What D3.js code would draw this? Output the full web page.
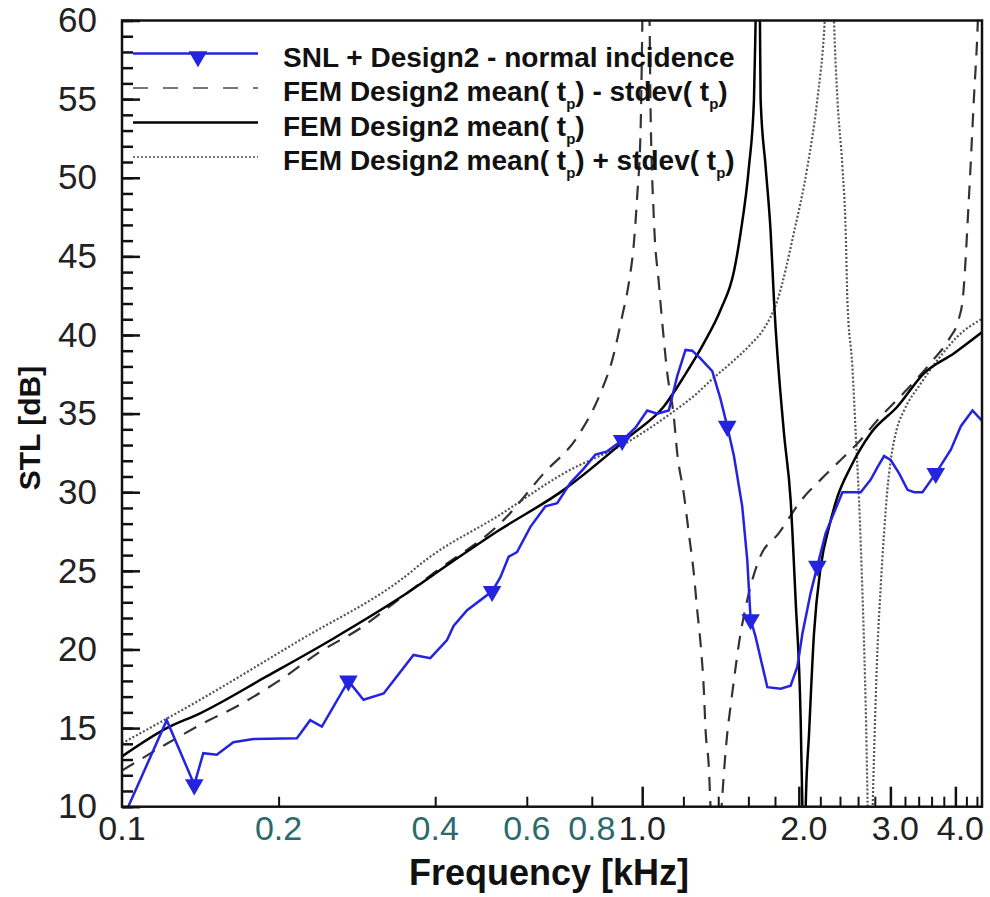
<!DOCTYPE html>
<html>
<head>
<meta charset="utf-8">
<script src="https://cdn.jsdelivr.net/npm/d3@7"></script>
<style>
  body { margin: 0; background: #fff; }
  svg { font-family: "Liberation Sans", Arial, sans-serif; }
</style>
</head>
<body>
<svg id="chart" width="990" height="897"></svg>
<script>
// SNL + Design2 - normal incidence (measured)
const snlFreq = [0.1028, 0.1219, 0.1377, 0.1433, 0.1521, 0.1637, 0.1789, 0.2169, 0.2300, 0.2422,
    0.2724, 0.2912, 0.3184, 0.3634, 0.3914, 0.4215, 0.4339, 0.4607, 0.5146, 0.5339,
    0.5538, 0.5746, 0.6097, 0.6515, 0.6864, 0.7278, 0.7720, 0.8130, 0.8565, 0.9152,
    0.9707, 1.0224, 1.0688, 1.125, 1.168, 1.2114, 1.248, 1.295, 1.3636, 1.415,
    1.457, 1.501, 1.557, 1.592, 1.616, 1.652, 1.740, 1.846, 1.929, 1.987,
    2.032, 2.108, 2.171, 2.253, 2.426, 2.631, 2.750, 2.834, 2.917, 3.004,
    3.118, 3.236, 3.333, 3.458, 3.667, 3.920, 4.098, 4.315, 4.511];
const snlStl = [10.0, 15.5, 11.4, 13.4, 13.3, 14.1, 14.3, 14.35, 15.5, 15.1,
    18.0, 16.8, 17.2, 19.65, 19.45, 20.6, 21.5, 22.5, 23.7, 24.6,
    25.9, 26.2, 27.8, 29.1, 29.3, 30.6, 31.5, 32.4, 32.6, 33.3,
    34.1, 35.2, 35.0, 35.2, 37.4, 39.05, 39.0, 38.5, 37.7, 35.9,
    34.2, 32.3, 29.1, 25.7, 21.9, 20.8, 17.6, 17.5, 17.7, 18.9,
    21.0, 23.6, 25.3, 27.4, 30.0, 30.0, 30.8, 31.6, 32.3, 32.05,
    31.2, 30.15, 30.0, 30.0, 31.2, 32.7, 34.2, 35.2, 34.5];
const snlMarkerFreq = [0.1377, 0.2724, 0.5146, 0.9152, 1.457, 1.616, 2.171, 3.667];

// FEM Design2 mean(tp) - stdev(tp)
const lowFreq = [0.1, 0.1219, 0.1413, 0.1687, 0.2014, 0.2404, 0.2871, 0.3426, 0.3972, 0.5497,
    0.6467, 0.7497, 0.8313, 0.8757, 0.9152, 0.9424, 0.9636, 0.978, 0.9925, 1.010,
    1.033, 1.037, 1.0527, 1.0764, 1.1005, 1.1171, 1.1503, 1.1676, 1.2023, 1.229,
    1.2566, 1.2756, 1.2946, 1.3138, 1.3236, 1.3431, 1.3532, 1.39, 1.4214, 1.4355,
    1.4575, 1.479, 1.501, 1.535, 1.592, 1.676, 1.831, 2.046, 2.204, 2.373,
    2.592, 2.874, 3.2, 3.6, 3.9, 4.05, 4.133, 4.245, 4.341, 4.418, 4.47];
const lowStl = [12.3, 14.0, 15.2, 16.5, 18.06, 19.86, 21.35, 23.26, 24.85, 28.45,
    31.2, 33.5, 36.3, 38.4, 41.2, 43.3, 45.8, 48.8, 52.8, 66,
    60, 55, 47.5, 43.3, 39.7, 37.6, 34.8, 32.5, 29.9, 27.4,
    24.85, 22.5, 20.4, 17.4, 14.9, 12.5, 10, 3, 10, 12.1,
    14.7, 16.4, 18.06, 20.4, 23.15, 25.7, 27.4, 29.7, 30.8, 31.85,
    33.1, 34.8, 36.4, 38.3, 39.8, 40.9, 42.3, 48.6, 55, 60, 66];

// FEM Design2 mean(tp)
const meanFreq = [0.1, 0.1219, 0.1413, 0.19, 0.255, 0.3426, 0.4278, 0.526, 0.7066, 0.9495,
    1.1004, 1.2025, 1.3138, 1.415, 1.5, 1.546, 1.604, 1.640, 1.652, 1.668,
    1.684, 1.689, 1.727, 1.766, 1.792, 1.873, 1.929, 1.972, 2.016, 2.032,
    2.046, 2.062, 2.093, 2.139, 2.204, 2.287, 2.373, 2.516, 2.750, 3.096,
    3.483, 3.978, 4.51];
const meanStl = [13.2, 15.0, 15.94, 18.3, 20.7, 23.3, 25.5, 27.5, 30.15, 33.6,
    35.45, 37.35, 39.48, 41.6, 44.0, 46.5, 50.7, 54.96, 60, 68,
    60, 55, 50.7, 46.5, 42.2, 33.75, 29.5, 23.15, 15.7, 10,
    2, 10, 14.67, 21.0, 25.27, 27.8, 29.7, 31.6, 33.75, 35.45,
    37.57, 38.84, 40.2];

// FEM Design2 mean(tp) + stdev(tp)
const highFreq = [0.1, 0.1413, 0.22, 0.3426, 0.3914, 0.526, 0.7066, 0.9495, 1.134, 1.2756,
    1.3532, 1.479, 1.616, 1.714, 1.819, 1.957, 2.078, 2.171, 2.236, 2.303,
    2.337, 2.373, 2.426, 2.462, 2.480, 2.535, 2.573, 2.611, 2.642, 2.695,
    2.713, 2.744, 2.774, 2.833, 2.874, 2.917, 2.961, 3.004, 3.085, 3.187,
    3.43, 3.695, 4.037, 4.543];
const highStl = [14.03, 16.8, 20.6, 24.4, 25.9, 28.45, 31.2, 33.3, 35.0, 36.3,
    37.1, 38.2, 39.4, 40.4, 42.2, 46.5, 50.7, 54.96, 59.2, 68,
    60, 55, 50.7, 46.5, 42.2, 38.0, 33.75, 29.5, 25, 15,
    10, 3, 10, 20, 24, 27.4, 30.2, 32, 34, 35.2,
    36.9, 38.4, 39.9, 41.1];

const yMinorTicks = d3.range(10, 61, 1);
const yMajorTicks = [10, 15, 20, 25, 30, 35, 40, 45, 50, 55, 60];
const xMinorTicks = [0.2, 0.4, 0.6, 0.8, 1.2, 1.4, 1.6, 1.8, 2.2, 2.4, 2.6, 2.8, 3.2, 3.4, 3.6, 3.8, 4.2, 4.4];
const xMajorTicks = [1.0, 2.0, 3.0, 4.0];
const xLabels = ['0.1', '0.2', '0.4', '0.6', '0.8', '1.0', '2.0', '3.0', '4.0'];
const xLabelsTeal = ['0.2', '0.4', '0.6', '0.8'];

const svg = d3.select('#chart');
const plotLeft = 122, plotRight = 982, plotTop = 20.5, plotBottom = 806.7;

const x = d3.scaleLog().domain([0.1, 4.5]).range([plotLeft, plotRight]);
const y = d3.scaleLinear().domain([10, 60]).range([plotBottom, plotTop]);

svg.append('defs').append('clipPath').attr('id', 'plot-clip')
    .append('rect')
    .attr('x', plotLeft).attr('y', plotTop)
    .attr('width', plotRight - plotLeft).attr('height', plotBottom - plotTop);

// y ticks (inside, pointing right)
svg.append('g')
    .attr('transform', `translate(${plotLeft},0)`)
    .call(d3.axisLeft(y).tickValues(yMinorTicks).tickSize(-11).tickFormat(''))
    .call(g => g.select('.domain').remove())
    .selectAll('line').attr('stroke', '#111').attr('stroke-width', 2.5);

svg.append('g')
    .attr('transform', `translate(${plotLeft},0)`)
    .call(d3.axisLeft(y).tickValues(yMajorTicks).tickSize(-18).tickPadding(25).tickFormat(d3.format('d')))
    .call(g => g.select('.domain').remove())
    .call(g => g.selectAll('line').attr('stroke', '#111').attr('stroke-width', 2.5))
    .call(g => g.selectAll('text')
        .attr('font-size', 35)
        .attr('fill', '#222')
        .attr('font-family', '"Liberation Sans", Arial, sans-serif'));

// x ticks (inside, pointing up)
svg.append('g')
    .attr('transform', `translate(0,${plotBottom})`)
    .call(d3.axisBottom(x).tickValues(xMinorTicks).tickSize(-10).tickFormat(''))
    .call(g => g.select('.domain').remove())
    .selectAll('line').attr('stroke', '#111').attr('stroke-width', 2);

svg.append('g')
    .attr('transform', `translate(0,${plotBottom})`)
    .call(d3.axisBottom(x).tickValues(xMajorTicks).tickSize(-20).tickFormat(''))
    .call(g => g.select('.domain').remove())
    .selectAll('line').attr('stroke', '#111').attr('stroke-width', 2.5);

svg.append('g')
    .selectAll('text')
    .data(xLabels)
    .join('text')
    .attr('x', d => x(+d) + (+d >= 2 ? 5 : 0))
    .attr('y', 840)
    .attr('text-anchor', 'middle')
    .attr('font-size', 34)
    .attr('fill', d => xLabelsTeal.includes(d) ? '#2a6a6e' : '#222')
    .text(d => d);

// axis titles
svg.append('text')
    .attr('x', 549).attr('y', 885)
    .attr('text-anchor', 'middle')
    .attr('font-size', 36).attr('font-weight', 'bold')
    .attr('fill', '#111')
    .text('Frequency [kHz]');

svg.append('text')
    .attr('transform', 'translate(40,428) rotate(-90)')
    .attr('text-anchor', 'middle')
    .attr('font-size', 30).attr('font-weight', 'bold')
    .attr('fill', '#111')
    .text('STL [dB]');

// curves
const plot = svg.append('g').attr('clip-path', 'url(#plot-clip)');

const smooth = d3.line().x(d => x(d[0])).y(d => y(d[1])).curve(d3.curveMonotoneX);
const straight = d3.line().x(d => x(d[0])).y(d => y(d[1]));

plot.append('path')
    .datum(d3.zip(highFreq, highStl))
    .attr('d', smooth)
    .attr('fill', 'none')
    .attr('stroke', '#555')
    .attr('stroke-width', 2.2)
    .attr('stroke-dasharray', '2,2');

plot.append('path')
    .datum(d3.zip(lowFreq, lowStl))
    .attr('d', smooth)
    .attr('fill', 'none')
    .attr('stroke', '#333')
    .attr('stroke-width', 2.2)
    .attr('stroke-dasharray', '14,10');

plot.append('path')
    .datum(d3.zip(meanFreq, meanStl))
    .attr('d', smooth)
    .attr('fill', 'none')
    .attr('stroke', '#000')
    .attr('stroke-width', 2.5);

plot.append('path')
    .datum(d3.zip(snlFreq, snlStl))
    .attr('d', straight)
    .attr('fill', 'none')
    .attr('stroke', '#2424e0')
    .attr('stroke-width', 2.5);

const tri = d3.symbol().type(d3.symbolTriangle).size(150);
plot.selectAll('.marker')
    .data(snlMarkerFreq.map(f => [f, snlStl[snlFreq.indexOf(f)]]))
    .join('path')
    .attr('class', 'marker')
    .attr('d', tri)
    .attr('transform', d => `translate(${x(d[0])},${y(d[1])}) rotate(180)`)
    .attr('fill', '#2424e0');

// frame
svg.append('rect')
    .attr('x', plotLeft).attr('y', plotTop)
    .attr('width', plotRight - plotLeft).attr('height', plotBottom - plotTop)
    .attr('fill', 'none')
    .attr('stroke', '#111')
    .attr('stroke-width', 2.5);

// legend
const legendItems = [
    { parts: [['SNL + Design2 - normal incidence']], stroke: '#2424e0', dash: null, width: 2.5, marker: true },
    { parts: [['FEM Design2 mean( t'], ['p', 'sub'], [') - stdev( t'], ['p', 'sub'], [')']], stroke: '#777', dash: '15,15', width: 2.2 },
    { parts: [['FEM Design2 mean( t'], ['p', 'sub'], [')']], stroke: '#000', dash: null, width: 2.5 },
    { parts: [['FEM Design2 mean( t'], ['p', 'sub'], [') + stdev( t'], ['p', 'sub'], [')']], stroke: '#777', dash: '2,2', width: 2 }
];

const legend = svg.append('g');
const rows = legend.selectAll('g')
    .data(legendItems)
    .join('g')
    .attr('transform', (d, i) => `translate(0,${53.5 + i * 34.5})`);

rows.append('line')
    .attr('x1', 133).attr('x2', 258)
    .attr('stroke', d => d.stroke)
    .attr('stroke-width', d => d.width)
    .attr('stroke-dasharray', d => d.dash);

rows.filter(d => d.marker).append('path')
    .attr('d', tri)
    .attr('transform', 'translate(198,3) rotate(180)')
    .attr('fill', '#2424e0');

const labels = rows.append('text')
    .attr('x', 283).attr('y', 13)
    .attr('font-size', 28).attr('font-weight', 'bold')
    .attr('fill', '#111');

labels.selectAll('tspan')
    .data(d => d.parts)
    .join('tspan')
    .attr('font-size', p => p[1] === 'sub' ? 15 : null)
    .attr('dy', p => p[1] === 'sub' ? 8 : null)
    .text(p => p[0]);

// undo subscript offsets after each sub tspan
labels.selectAll('tspan').each(function (p, i, nodes) {
    if (i > 0 && nodes[i - 1].__data__[1] === 'sub') d3.select(this).attr('dy', -8);
});
</script>
</body>
</html>
